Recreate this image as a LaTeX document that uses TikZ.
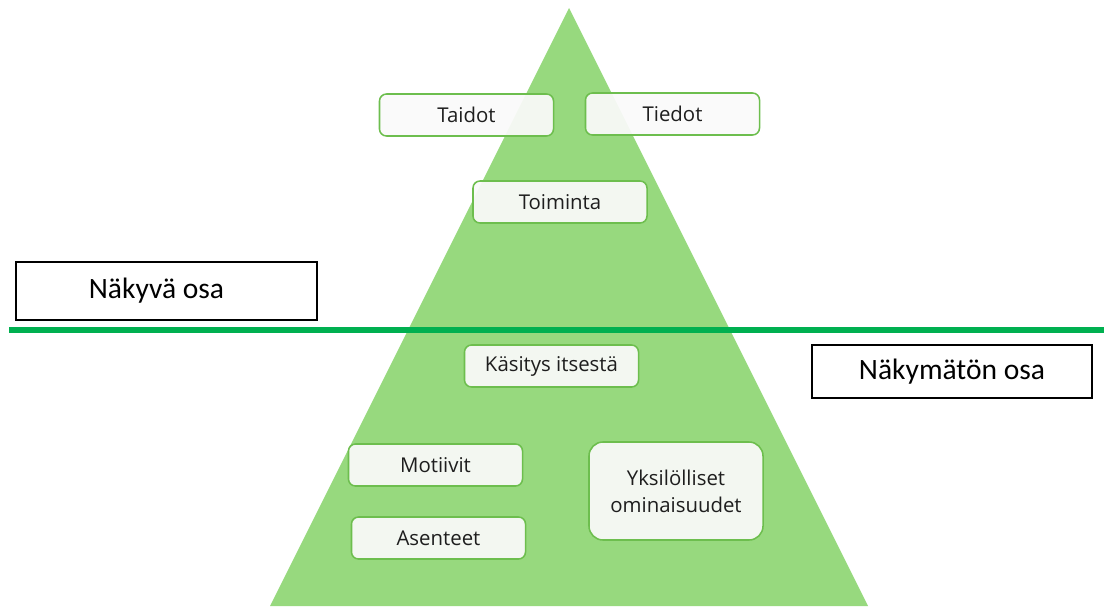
\documentclass[tikz,border=0pt]{standalone}
\usepackage{fontspec}
\setmainfont{Open Sans}
\newfontfamily\calibrifont{Carlito}
\usepackage{tikz}

\definecolor{pyramidgreen}{HTML}{97D97E}
\definecolor{boxgreen}{HTML}{6DBE4E}
\definecolor{linegreen}{HTML}{00B050}
\definecolor{textgray}{HTML}{1E1E1E}

\tikzset{
  osabox/.style={draw=black, line width=0.8pt, fill=white, inner sep=0pt,
    font=\calibrifont\fontsize{21}{24}\selectfont},
  tekija/.style={draw=boxgreen, line width=1.1pt, rounded corners=5pt,
    fill=white!98!black, fill opacity=0.93, text opacity=1, text=textgray,
    minimum width=4.35cm, minimum height=1.05cm, inner sep=0pt,
    font=\fontsize{14.5}{19}\selectfont, align=center}
}

\begin{document}
\begin{tikzpicture}[x=0.025cm, y=-0.025cm]

% Fix the size of the page
\useasboundingbox (0,0) rectangle (1104,606);

% The pyramid
\coordinate (top) at (569,8);
\coordinate (leftfoot) at (270,606);
\coordinate (rightfoot) at (868,606);
\fill[pyramidgreen] (top) -- (rightfoot) -- (leftfoot) -- cycle;

% Visible part
\node[tekija] (taidot) at (466.5,115) {Taidot};
\node[tekija] (tiedot) at (672.5,114) {Tiedot};
\node[tekija] (toiminta) at (560,202) {Toiminta};

% The border line between the parts
\coordinate (rajavasen) at (9,330);
\coordinate (rajaoikea) at (1104,330);
\draw[linegreen, line width=4.2pt] (rajavasen) -- (rajaoikea);

% Labels of the two parts
\node[osabox, minimum width=7.525cm, minimum height=1.45cm] (nakyva) at (166.5,291) {\hspace*{-0.5cm}Näkyvä osa};
\node[osabox, minimum width=7.0cm, minimum height=1.325cm] (nakymaton) at (952,371.5) {Näkymätön osa};

% Invisible part
\node[tekija] (kasitys) at (551.5,366) {Käsitys itsestä};
\node[tekija] (motiivit) at (435.5,465) {Motiivit};
\node[tekija] (asenteet) at (438.5,538) {Asenteet};
\node[tekija, minimum height=2.45cm, rounded corners=10pt] (yksilolliset) at (676,491) {Yksilölliset\\ominaisuudet};

\end{tikzpicture}
\end{document}
